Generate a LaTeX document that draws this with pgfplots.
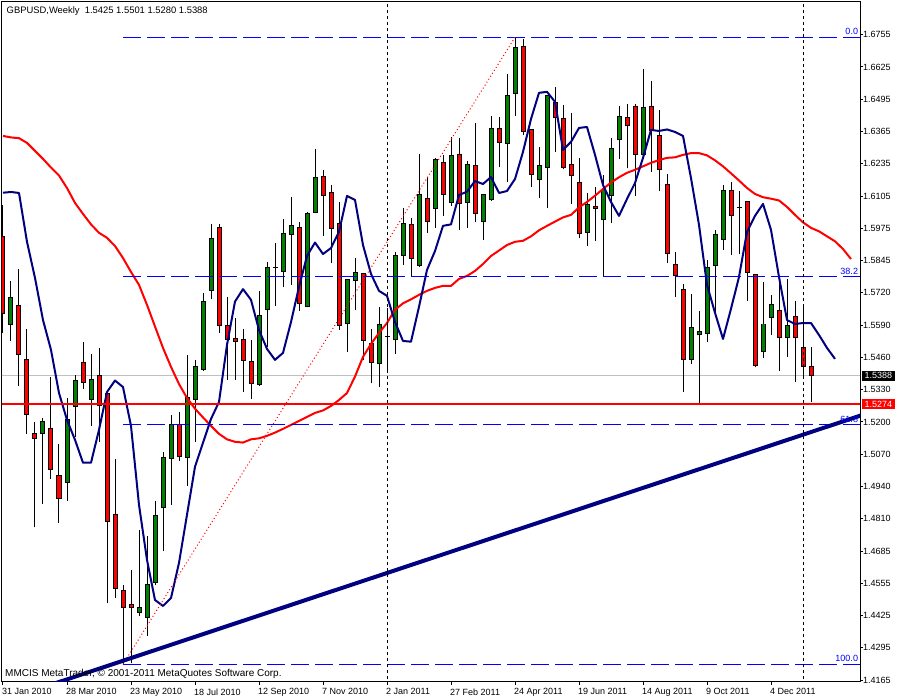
\documentclass[border=0pt]{standalone}
\usepackage{fontspec}
\setmainfont{Liberation Sans}
\usepackage{pgfplots}
\usepackage{pgfplotstable}
\pgfplotsset{compat=1.18}
\definecolor{mtgreen}{RGB}{0,128,0}
\definecolor{mtred}{RGB}{255,0,0}
\definecolor{mtnavy}{RGB}{0,0,128}
\definecolor{mtblue}{RGB}{0,0,255}
\definecolor{mtgrey}{RGB}{192,192,192}

\pgfplotstableread{
x o h l c
1 1.5594 1.5768 1.5528 1.5703
5 1.5157 1.5217 1.4872 1.5202
8 1.4960 1.5297 1.4886 1.5210
9 1.5265 1.5389 1.5143 1.5369
11 1.5293 1.5475 1.5187 1.5373
17 1.4436 1.4768 1.4423 1.4456
18 1.4418 1.4744 1.4344 1.4550
19 1.4557 1.4885 1.4548 1.4825
20 1.4860 1.5080 1.4685 1.5060
21 1.5056 1.5230 1.4869 1.5193
23 1.5060 1.5471 1.4946 1.5301
24 1.5293 1.5451 1.5123 1.5426
25 1.5414 1.5721 1.5408 1.5686
26 1.5729 1.5997 1.5695 1.5939
32 1.5353 1.5729 1.5348 1.5630
33 1.5654 1.5845 1.5504 1.5823
34 1.5821 1.5919 1.5669 1.5821
35 1.5805 1.6017 1.5745 1.5959
36 1.5955 1.6104 1.5752 1.5992
38 1.5665 1.6046 1.5662 1.6040
39 1.6044 1.6298 1.6040 1.6184
43 1.5598 1.5775 1.5484 1.5775
44 1.5769 1.5860 1.5652 1.5803
47 1.5438 1.5662 1.5344 1.5591
48 1.5544 1.5658 1.5404 1.5544
49 1.5534 1.5886 1.5475 1.5868
50 1.5870 1.6060 1.5832 1.6000
52 1.5831 1.6278 1.5823 1.6113
54 1.6057 1.6263 1.5980 1.6254
56 1.6082 1.6345 1.6070 1.6270
58 1.6084 1.6251 1.5980 1.6234
60 1.6006 1.6113 1.5933 1.6113
61 1.6093 1.6430 1.6090 1.6381
63 1.6321 1.6599 1.6167 1.6511
64 1.6521 1.6746 1.6430 1.6706
67 1.6176 1.6307 1.6102 1.6230
68 1.6224 1.6511 1.6060 1.6511
73 1.5963 1.6120 1.5910 1.6073
75 1.6016 1.6194 1.5783 1.6136
76 1.6110 1.6341 1.6002 1.6301
77 1.6334 1.6470 1.6258 1.6428
80 1.6277 1.6619 1.6257 1.6465
86 1.5454 1.5716 1.5435 1.5582
87 1.5551 1.5648 1.5273 1.5563
88 1.5558 1.5852 1.5524 1.5823
89 1.5829 1.5973 1.5645 1.5953
90 1.5935 1.6153 1.5892 1.6129
92 1.6064 1.6130 1.5875 1.6064
95 1.5484 1.5765 1.5458 1.5595
96 1.5622 1.5712 1.5551 1.5672
98 1.5540 1.5776 1.5464 1.5587
}\bull

\pgfplotstableread{
x o h l c
0 1.5946 1.6073 1.5558 1.5638
2 1.5668 1.5815 1.5348 1.5474
3 1.5454 1.5575 1.5153 1.5233
4 1.5157 1.5202 1.4779 1.5137
6 1.5177 1.5381 1.4974 1.5012
7 1.4988 1.5114 1.4798 1.4896
10 1.5442 1.5523 1.5334 1.5361
12 1.5387 1.5499 1.5123 1.5269
13 1.5314 1.5320 1.4474 1.4802
14 1.4829 1.5053 1.4494 1.4534
15 1.4524 1.4548 1.4230 1.4458
16 1.4470 1.4608 1.4233 1.4458
22 1.5193 1.5243 1.5047 1.5063
27 1.5983 1.5997 1.5560 1.5588
28 1.5588 1.5703 1.5370 1.5534
29 1.5538 1.5618 1.5370 1.5524
30 1.5534 1.5575 1.5324 1.5448
31 1.5446 1.5531 1.5294 1.5357
37 1.5983 1.6004 1.5649 1.5678
40 1.6187 1.6214 1.5949 1.6112
41 1.6124 1.6153 1.5839 1.5980
42 1.6000 1.6086 1.5571 1.5590
45 1.5799 1.5799 1.5451 1.5529
46 1.5515 1.5575 1.5357 1.5442
51 1.5993 1.6020 1.5785 1.5859
53 1.6100 1.6187 1.5962 1.6006
55 1.6245 1.6274 1.6030 1.6116
57 1.6277 1.6341 1.5973 1.6080
59 1.6230 1.6401 1.6006 1.6040
62 1.6378 1.6425 1.6227 1.6325
65 1.6711 1.6739 1.6354 1.6367
66 1.6377 1.6377 1.6146 1.6196
69 1.6485 1.6545 1.6287 1.6425
70 1.6421 1.6474 1.6216 1.6224
71 1.6236 1.6443 1.6077 1.6190
72 1.6164 1.6260 1.5939 1.5959
74 1.6065 1.6143 1.5930 1.6057
78 1.6425 1.6478 1.6220 1.6390
79 1.6468 1.6478 1.6110 1.6277
81 1.6468 1.6571 1.6207 1.6370
82 1.6351 1.6454 1.6130 1.6216
83 1.6156 1.6198 1.5841 1.5879
84 1.5835 1.5883 1.5705 1.5789
85 1.5732 1.5755 1.5324 1.5454
91 1.6129 1.6164 1.5872 1.6030
93 1.6086 1.6086 1.5689 1.5801
94 1.5792 1.5796 1.5421 1.5428
97 1.5650 1.5768 1.5408 1.5540
99 1.5627 1.5689 1.5361 1.5540
100 1.5502 1.5668 1.5377 1.5424
101 1.5425 1.5501 1.5280 1.5388
}\bear

\pgfplotstableread{
x y
0 1.6122
1 1.6125
2 1.6121
3 1.5925
4 1.5780
5 1.5611
6 1.5491
7 1.5318
8 1.5210
9 1.5130
10 1.5038
11 1.5038
12 1.5170
13 1.5322
14 1.5368
15 1.5342
16 1.5186
17 1.4869
18 1.4648
19 1.4487
20 1.4463
21 1.4495
22 1.4636
23 1.4829
24 1.5022
25 1.5118
26 1.5214
27 1.5282
28 1.5511
29 1.5685
30 1.5735
31 1.5692
32 1.5571
33 1.5495
34 1.5451
35 1.5479
36 1.5603
37 1.5744
38 1.5868
39 1.5922
40 1.5876
41 1.5900
42 1.5965
43 1.6109
44 1.6093
45 1.5912
46 1.5796
47 1.5728
48 1.5708
49 1.5603
50 1.5527
51 1.5524
52 1.5664
53 1.5812
54 1.5888
55 1.5989
56 1.5995
57 1.6113
58 1.6126
59 1.6169
60 1.6157
61 1.6185
62 1.6121
63 1.6129
64 1.6177
65 1.6286
66 1.6418
67 1.6523
68 1.6527
69 1.6487
70 1.6294
71 1.6326
72 1.6382
73 1.6386
74 1.6274
75 1.6153
76 1.6085
77 1.6029
78 1.6097
79 1.6161
80 1.6262
81 1.6374
82 1.6370
83 1.6376
84 1.6366
85 1.6350
86 1.6181
87 1.5993
88 1.5752
89 1.5640
90 1.5535
91 1.5656
92 1.5784
93 1.5965
94 1.6029
95 1.6077
96 1.5973
97 1.5784
98 1.5611
99 1.5595
100 1.5599
101 1.5599
102 1.5551
103 1.5499
104 1.5455
}\fastma

\pgfplotstableread{
x y
0 1.6350
1 1.6344
2 1.6341
3 1.6322
4 1.6290
5 1.6258
6 1.6223
7 1.6191
8 1.6141
9 1.6081
10 1.6037
11 1.5995
12 1.5961
13 1.5941
14 1.5908
15 1.5860
16 1.5804
17 1.5752
18 1.5672
19 1.5585
20 1.5499
21 1.5423
22 1.5354
23 1.5298
24 1.5255
25 1.5220
26 1.5186
27 1.5154
28 1.5132
29 1.5122
30 1.5119
31 1.5132
32 1.5136
33 1.5146
34 1.5159
35 1.5174
36 1.5190
37 1.5206
38 1.5222
39 1.5238
40 1.5248
41 1.5266
42 1.5290
43 1.5318
44 1.5384
45 1.5463
46 1.5515
47 1.5559
48 1.5599
49 1.5652
50 1.5678
51 1.5694
52 1.5712
53 1.5728
54 1.5740
55 1.5748
56 1.5748
57 1.5776
58 1.5788
59 1.5808
60 1.5836
61 1.5868
62 1.5890
63 1.5912
64 1.5925
65 1.5929
66 1.5947
67 1.5971
68 1.5989
69 1.6006
70 1.6023
71 1.6033
72 1.6063
73 1.6085
74 1.6110
75 1.6137
76 1.6163
77 1.6184
78 1.6202
79 1.6214
80 1.6228
81 1.6242
82 1.6253
83 1.6262
84 1.6264
85 1.6274
86 1.6281
87 1.6281
88 1.6272
89 1.6252
90 1.6228
91 1.6200
92 1.6171
93 1.6141
94 1.6117
95 1.6104
96 1.6098
97 1.6091
98 1.6065
99 1.6033
100 1.6003
101 1.5981
102 1.5967
103 1.5947
104 1.5927
105 1.5896
106 1.5856
}\slowma

\newcommand{\mtfont}{\fontsize{9}{10}\selectfont}
\pgfplotsset{candle/.style={only marks, mark=none, mark size=0pt, mark options={draw=none, fill=none}}}

\begin{document}
\begin{tikzpicture}[x=1pt,y=1pt]
\path[use as bounding box, fill=white] (0,0) rectangle (900,700);
\begin{axis}[
  at={(2pt,18pt)}, anchor=south west,
  scale only axis, width=858pt, height=680pt,
  xmin=-0.125, xmax=107.125, ymin=1.415785, ymax=1.688771,
  clip mode=individual,
  axis line style={black, line width=1pt},
  tick style={black, line width=1pt},
  tick align=outside, major tick length=3pt,
  xtick pos=left, ytick pos=right, yticklabel pos=right,
  xtick={0,8,16,24,32,40,48,56,64,72,80,88,96},
  xticklabels={31 Jan 2010,28 Mar 2010,23 May 2010,18 Jul 2010,12 Sep 2010,7 Nov 2010,2 Jan 2011,27 Feb 2011,24 Apr 2011,19 Jun 2011,14 Aug 2011,9 Oct 2011,4 Dec 2011},
  ytick={1.67564,1.662685,1.64973,1.636775,1.62382,1.610865,1.59791,1.584955,1.572,1.559045,1.54609,1.533135,1.52018,1.507225,1.49427,1.481315,1.46836,1.455405,1.44245,1.429495,1.41654},
  yticklabels={1.6755,1.6625,1.6495,1.6365,1.6235,1.6105,1.5975,1.5845,1.5720,1.5590,1.5460,1.5330,1.5200,1.5070,1.4940,1.4810,1.4685,1.4555,1.4425,1.4295,1.4165},
  xticklabel style={anchor=north west, inner sep=0pt, xshift=-1pt, yshift=-3.5pt, font=\mtfont},
  yticklabel style={anchor=west, inner sep=0pt, xshift=0pt, font=\mtfont},
  every axis plot/.append style={forget plot},
]
% bid line
\addplot[mtgrey, line width=1pt] coordinates {(-1,1.5388) (108,1.5388)};
% wicks
\addplot[candle, error bars/.cd, y dir=plus, y explicit, error mark=none,
  error bar style={black, line width=1pt}] table[x=x, y=l, y error plus expr=\thisrow{h}-\thisrow{l}] {\bull};
\addplot[candle, error bars/.cd, y dir=plus, y explicit, error mark=none,
  error bar style={black, line width=1pt}] table[x=x, y=l, y error plus expr=\thisrow{h}-\thisrow{l}] {\bear};
% body outlines
\addplot[candle, error bars/.cd, y dir=plus, y explicit, error mark=none,
  error bar style={black, line width=5pt}] table[x=x, y expr={min(\thisrow{o},\thisrow{c})-0.0002}, y error plus expr={abs(\thisrow{c}-\thisrow{o})+0.0004}] {\bull};
\addplot[candle, error bars/.cd, y dir=plus, y explicit, error mark=none,
  error bar style={black, line width=5pt}] table[x=x, y expr={min(\thisrow{o},\thisrow{c})-0.0002}, y error plus expr={abs(\thisrow{c}-\thisrow{o})+0.0004}] {\bear};
% body fills
\addplot[candle, error bars/.cd, y dir=plus, y explicit, error mark=none,
  error bar style={mtgreen, line width=3pt}] table[x=x, y expr={min(\thisrow{o},\thisrow{c})+0.0002}, y error plus expr={max(abs(\thisrow{c}-\thisrow{o})-0.0004,0)}] {\bull};
\addplot[candle, error bars/.cd, y dir=plus, y explicit, error mark=none,
  error bar style={mtred, line width=3pt}] table[x=x, y expr={min(\thisrow{o},\thisrow{c})+0.0002}, y error plus expr={max(abs(\thisrow{c}-\thisrow{o})-0.0004,0)}] {\bear};
% moving averages
\addplot[mtred, line width=2pt, line join=round, mark=none] table[x=x, y=y] {\slowma};
\addplot[mtnavy, line width=2pt, line join=round, mark=none] table[x=x, y=y] {\fastma};
% fibonacci levels
\addplot[mtblue, line width=1pt, dash pattern=on 18pt off 6pt] coordinates {(15,1.6746) (107.2,1.6746)};
\addplot[mtblue, line width=1pt, dash pattern=on 18pt off 6pt] coordinates {(15,1.5785) (107.2,1.5785)};
\addplot[mtblue, line width=1pt, dash pattern=on 18pt off 6pt] coordinates {(15,1.5191) (107.2,1.5191)};
\addplot[mtblue, line width=1pt, dash pattern=on 18pt off 6pt] coordinates {(15,1.4229) (107.2,1.4229)};
\addplot[mtred, line width=1pt, dash pattern=on 1pt off 2.5pt] coordinates {(15,1.4229) (64,1.6746)};
% horizontal line
\addplot[mtred, line width=2.5pt] coordinates {(-1,1.5274) (108,1.5274)};
% trend line
\addplot[mtnavy, line width=4pt] coordinates {(0,1.4083) (108,1.5236)};
% period separators
\addplot[black, line width=1pt, dash pattern=on 3pt off 3pt] coordinates {(48,1.40) (48,1.70)};
\addplot[black, line width=1pt, dash pattern=on 3pt off 3pt] coordinates {(100,1.40) (100,1.70)};
% fib labels
\node[anchor=base east, text=mtblue, font=\mtfont, inner sep=0pt] at (axis cs:106.9,1.6746) [yshift=2.5pt] {0.0};
\node[anchor=base east, text=mtblue, font=\mtfont, inner sep=0pt] at (axis cs:106.9,1.5785) [yshift=2.5pt] {38.2};
\node[anchor=base east, text=mtblue, font=\mtfont, inner sep=0pt] at (axis cs:106.9,1.5191) [yshift=2.5pt] {61.8};
\node[anchor=base east, text=mtblue, font=\mtfont, inner sep=0pt] at (axis cs:106.9,1.4229) [yshift=2.5pt] {100.0};
% price boxes
\node[anchor=west, fill=black, text=white, font=\mtfont, inner xsep=3pt, inner ysep=1pt, minimum height=10pt] at (axis cs:107.125,1.5388) [xshift=1.5pt] {1.5388};
\node[anchor=west, fill=mtred, text=white, font=\mtfont, inner xsep=3pt, inner ysep=1pt, minimum height=10pt] at (axis cs:107.125,1.5274) [xshift=1.5pt] {1.5274};
\end{axis}
\node[anchor=west, font=\fontsize{9.4}{10}\selectfont, inner sep=0pt] at (6.5,689) {GBPUSD,Weekly\ \ 1.5425 1.5501 1.5280 1.5388};
\node[anchor=west, font=\fontsize{10}{11}\selectfont, inner sep=0pt] at (5,25.7) {MMCIS MetaTrader, \textcopyright{} 2001-2011 MetaQuotes Software Corp.};
\end{tikzpicture}
\end{document}
